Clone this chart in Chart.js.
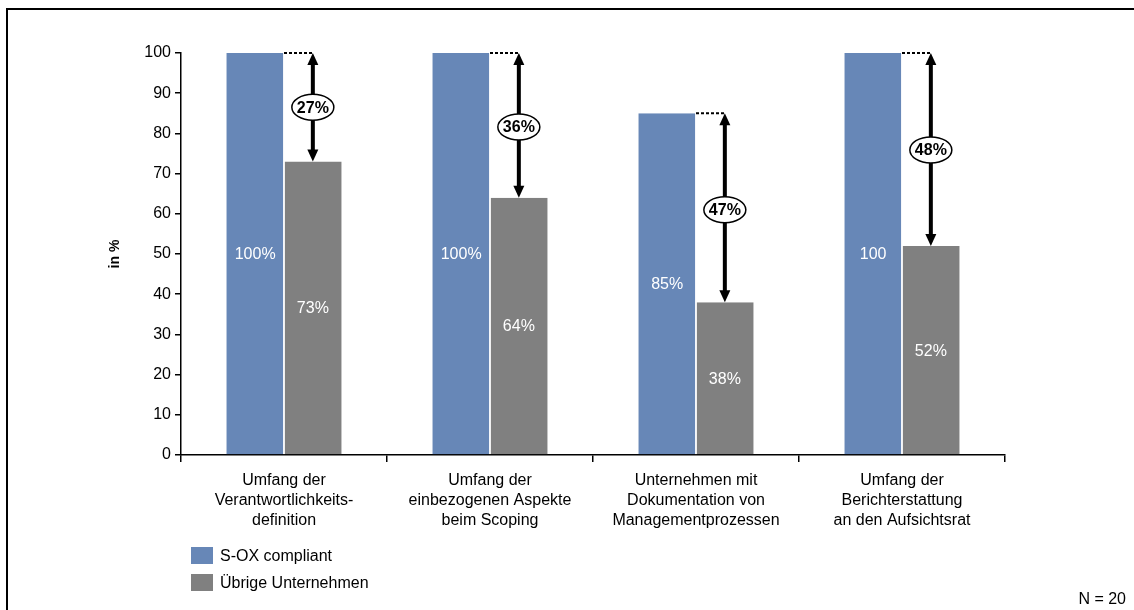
<!DOCTYPE html>
<html lang="de">
<head>
<meta charset="utf-8">
<title>S-OX compliant vs. übrige Unternehmen</title>
<script src="https://cdn.jsdelivr.net/npm/chart.js@4.4.1/dist/chart.umd.min.js"></script>
<style>
  html, body { margin: 0; padding: 0; background: #fff; }
  #wrap { position: relative; width: 1134px; height: 610px; overflow: hidden; }
  #frame {
    position: absolute; left: 6px; top: 8px; width: 1200px; height: 700px;
    border-left: 2px solid #000; border-top: 2px solid #000;
  }
  #chart { position: absolute; left: 0; top: 0; }
  #note {
    position: absolute; right: 8px; bottom: 2px;
    font: 16px "Liberation Sans", Arial, sans-serif; color: #000;
  }
</style>
</head>
<body>
<div id="wrap">
  <div id="frame"></div>
  <canvas id="chart" width="1134" height="610"></canvas>
  <div id="note">N = 20</div>
</div>
<script>
const categories = [
  ["Umfang der", "Verantwortlichkeits-", "definition"],
  ["Umfang der", "einbezogenen Aspekte", "beim Scoping"],
  ["Unternehmen mit", "Dokumentation von", "Managementprozessen"],
  ["Umfang der", "Berichterstattung", "an den Aufsichtsrat"]
];
const soxValues = [100, 100, 85, 100];
const soxUnits = ["%", "%", "%", ""];
const otherValues = [73, 64, 38, 52];
const otherUnits = ["%", "%", "%", "%"];
// height (in axis units) at which each gap bubble sits on its arrow
const gapBubbleAt = [86.5, 81.6, 61, 75.9];
const yTicks = [0, 10, 20, 30, 40, 50, 60, 70, 80, 90, 100];

const FONT = '"Liberation Sans", Arial, sans-serif';

// white value labels in the middle of each bar
const barLabels = {
  id: "barLabels",
  afterDatasetsDraw(chart) {
    const ctx = chart.ctx;
    const units = [soxUnits, otherUnits];
    ctx.save();
    ctx.font = "16px " + FONT;
    ctx.fillStyle = "#fff";
    ctx.textAlign = "center";
    ctx.textBaseline = "middle";
    chart.data.datasets.forEach((ds, di) => {
      chart.getDatasetMeta(di).data.forEach((bar, i) => {
        ctx.fillText(ds.data[i] + units[di][i], bar.x, (bar.y + bar.base) / 2 + 1);
      });
    });
    ctx.restore();
  }
};

function arrowHead(ctx, x, y, dir) {
  ctx.beginPath();
  ctx.moveTo(x, y);
  ctx.lineTo(x - 5.5, y + dir * 12);
  ctx.lineTo(x + 5.5, y + dir * 12);
  ctx.closePath();
  ctx.fill();
}

// double arrows showing the difference between the two groups
const gapArrows = {
  id: "gapArrows",
  afterDatasetsDraw(chart) {
    const ctx = chart.ctx;
    const y = chart.scales.y;
    const sox = chart.getDatasetMeta(0).data;
    const other = chart.getDatasetMeta(1).data;
    ctx.save();
    other.forEach((bar, i) => {
      const x = bar.x;
      const yTop = y.getPixelForValue(soxValues[i]);
      const yBot = y.getPixelForValue(otherValues[i]);
      const soxRight = sox[i].x + sox[i].width / 2;

      ctx.strokeStyle = "#000";
      ctx.lineWidth = 2;
      ctx.setLineDash([3, 2]);
      ctx.beginPath();
      ctx.moveTo(soxRight, yTop);
      ctx.lineTo(x, yTop);
      ctx.stroke();
      ctx.setLineDash([]);

      ctx.lineWidth = 4;
      ctx.beginPath();
      ctx.moveTo(x, yTop + 10);
      ctx.lineTo(x, yBot - 10);
      ctx.stroke();
      ctx.fillStyle = "#000";
      arrowHead(ctx, x, yTop, 1);
      arrowHead(ctx, x, yBot, -1);

      const cy = y.getPixelForValue(gapBubbleAt[i]);
      ctx.beginPath();
      ctx.ellipse(x, cy, 21, 13, 0, 0, Math.PI * 2);
      ctx.fillStyle = "#fff";
      ctx.fill();
      ctx.lineWidth = 1.5;
      ctx.stroke();
      ctx.fillStyle = "#000";
      ctx.font = "bold 16px " + FONT;
      ctx.textAlign = "center";
      ctx.textBaseline = "middle";
      ctx.fillText((soxValues[i] - otherValues[i]) + "%", x, cy + 1);
    });
    ctx.restore();
  }
};

// vertical legend under the category labels
const stackedLegend = {
  id: "stackedLegend",
  afterDraw(chart) {
    const ctx = chart.ctx;
    ctx.save();
    ctx.font = "16px " + FONT;
    ctx.textBaseline = "middle";
    chart.data.datasets.forEach((ds, i) => {
      const top = 547 + i * 27;
      ctx.fillStyle = ds.backgroundColor;
      ctx.fillRect(191, top, 22, 17);
      ctx.fillStyle = "#000";
      ctx.fillText(ds.label, 220, top + 10);
    });
    ctx.restore();
  }
};

new Chart(document.getElementById("chart"), {
  type: "bar",
  data: {
    labels: categories,
    datasets: [
      {
        label: "S-OX compliant",
        data: soxValues,
        backgroundColor: "#6787b7",
        borderColor: "#f4f6fa",
        borderWidth: { left: 0, right: 1, top: 0, bottom: 0 },
        borderSkipped: false
      },
      {
        label: "Übrige Unternehmen",
        data: otherValues,
        backgroundColor: "#808080",
        borderColor: "#f0f0f0",
        borderWidth: { left: 1, right: 0, top: 0, bottom: 0 },
        borderSkipped: false
      }
    ]
  },
  options: {
    responsive: false,
    animation: false,
    layout: { padding: { left: 100, right: 129, top: 53, bottom: 80 } },
    datasets: { bar: { categoryPercentage: 0.56, barPercentage: 1 } },
    plugins: { legend: { display: false }, tooltip: { enabled: false } },
    scales: {
      x: {
        grid: { offset: true, drawOnChartArea: false, tickLength: 7, color: "#000", lineWidth: 1.5 },
        border: { color: "#000", width: 1.5 },
        ticks: { color: "#000", font: { family: FONT, size: 16, lineHeight: 1.25 }, padding: 9, maxRotation: 0 },
        afterFit(scale) { scale.height = 75; }
      },
      y: {
        min: 0,
        max: 100,
        afterBuildTicks(scale) { scale.ticks = yTicks.map((v) => ({ value: v })); },
        grid: { drawOnChartArea: false, tickLength: 6, color: "#000", lineWidth: 1.5 },
        border: { color: "#000", width: 1.5 },
        ticks: { color: "#000", font: { family: FONT, size: 16 }, padding: 4 },
        title: {
          display: true,
          text: "in %",
          color: "#000",
          font: { family: FONT, size: 14, weight: "bold" },
          padding: { top: 7, bottom: 0 }
        },
        afterFit(scale) { scale.width = 81; }
      }
    }
  },
  plugins: [barLabels, gapArrows, stackedLegend]
});
</script>
</body>
</html>
